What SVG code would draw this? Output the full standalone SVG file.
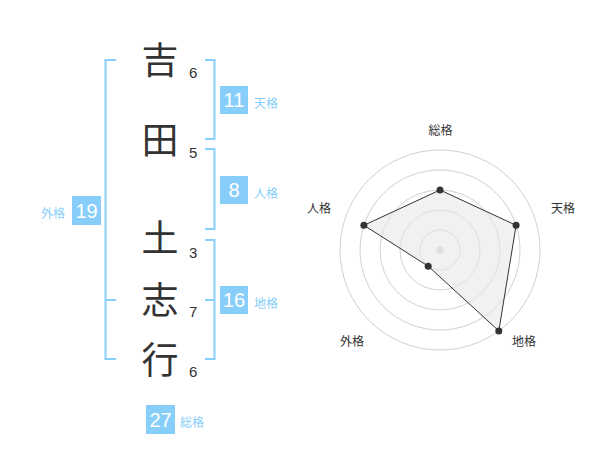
<svg xmlns="http://www.w3.org/2000/svg" width="600" height="470" viewBox="0 0 600 470">
<style>
.kanji{font-family:"Noto Sans CJK JP","Noto Sans CJK SC",sans-serif;font-size:37px;fill:#333;text-anchor:middle}
.num{font-family:"Liberation Sans",Arial,sans-serif;font-size:15px;fill:#333}
.box{fill:#87CEFA}
.boxt{font-family:"Liberation Sans",Arial,sans-serif;font-size:20px;fill:#fff;text-anchor:middle}
.lbl{font-family:"Noto Sans CJK JP","Noto Sans CJK SC",sans-serif;font-size:12px;fill:#87CEFA}
.br{fill:none;stroke:#87CEFA;stroke-width:2}
.ring{fill:none;stroke:#d0d0d0;stroke-width:1}
.rl{font-family:"Noto Sans CJK JP","Noto Sans CJK SC",sans-serif;font-size:12px;fill:#333;text-anchor:middle}
.pt{fill:#333}
</style>
<rect width="600" height="470" fill="#fff"/>
<g id="connectors">
<path class="br" d="M116,60 H105.5 V359 H116 M105.5,300 H116"/>
<path class="br" d="M205,60 H214.5 V139 H205"/>
<path class="br" d="M205,149 H214.5 V229 H205"/>
<path class="br" d="M205,240 H214.5 V359 H205 M214.5,300 H205"/>
</g>
<g id="char-1"><text class="kanji" x="160" y="74">吉</text><text class="num" x="189" y="78">6</text></g>
<g id="char-2"><text class="kanji" x="160" y="154">田</text><text class="num" x="189" y="158">5</text></g>
<g id="char-3"><text class="kanji" x="160" y="252">土</text><text class="num" x="189" y="258">3</text></g>
<g id="char-4"><text class="kanji" x="160" y="314">志</text><text class="num" x="189" y="317">7</text></g>
<g id="char-5"><text class="kanji" x="160" y="374">行</text><text class="num" x="189" y="377">6</text></g>
<g id="tenkaku"><rect class="box" x="220" y="86" width="28" height="28"/><text class="boxt" x="234" y="107">11</text><text class="lbl" x="254" y="108">天格</text></g>
<g id="jinkaku"><rect class="box" x="220" y="176" width="28" height="28"/><text class="boxt" x="234" y="197">8</text><text class="lbl" x="254" y="198">人格</text></g>
<g id="chikaku"><rect class="box" x="220" y="286" width="28" height="28"/><text class="boxt" x="234" y="307">16</text><text class="lbl" x="254" y="308">地格</text></g>
<g id="gaikaku"><rect class="box" x="72" y="196" width="29" height="29"/><text class="boxt" x="86.5" y="217.5">19</text><text class="lbl" x="41" y="218">外格</text></g>
<g id="soukaku"><rect class="box" x="146" y="405" width="29" height="29"/><text class="boxt" x="160.5" y="426.5">27</text><text class="lbl" x="180" y="427">総格</text></g>
<g id="radar">
<circle class="ring" cx="440" cy="250" r="20"/>
<circle class="ring" cx="440" cy="250" r="40"/>
<circle class="ring" cx="440" cy="250" r="60"/>
<circle class="ring" cx="440" cy="250" r="80"/>
<circle class="ring" cx="440" cy="250" r="100"/>
<circle cx="440" cy="250" r="3.5" fill="#ccc"/>
<polygon points="440,190 516.1,225.3 498.8,330.9 428.2,266.2 363.9,225.3" fill="#e8e8e8" fill-opacity="0.6" stroke="#333" stroke-width="1"/>
<circle class="pt" cx="440" cy="190" r="3.5"/>
<circle class="pt" cx="516.1" cy="225.3" r="3.5"/>
<circle class="pt" cx="498.8" cy="330.9" r="3.5"/>
<circle class="pt" cx="428.2" cy="266.2" r="3.5"/>
<circle class="pt" cx="363.9" cy="225.3" r="3.5"/>
<text class="rl" x="440.5" y="135">総格</text>
<text class="rl" x="563" y="213">天格</text>
<text class="rl" x="319" y="213">人格</text>
<text class="rl" x="352" y="346">外格</text>
<text class="rl" x="524" y="346">地格</text>
</g>
</svg>
